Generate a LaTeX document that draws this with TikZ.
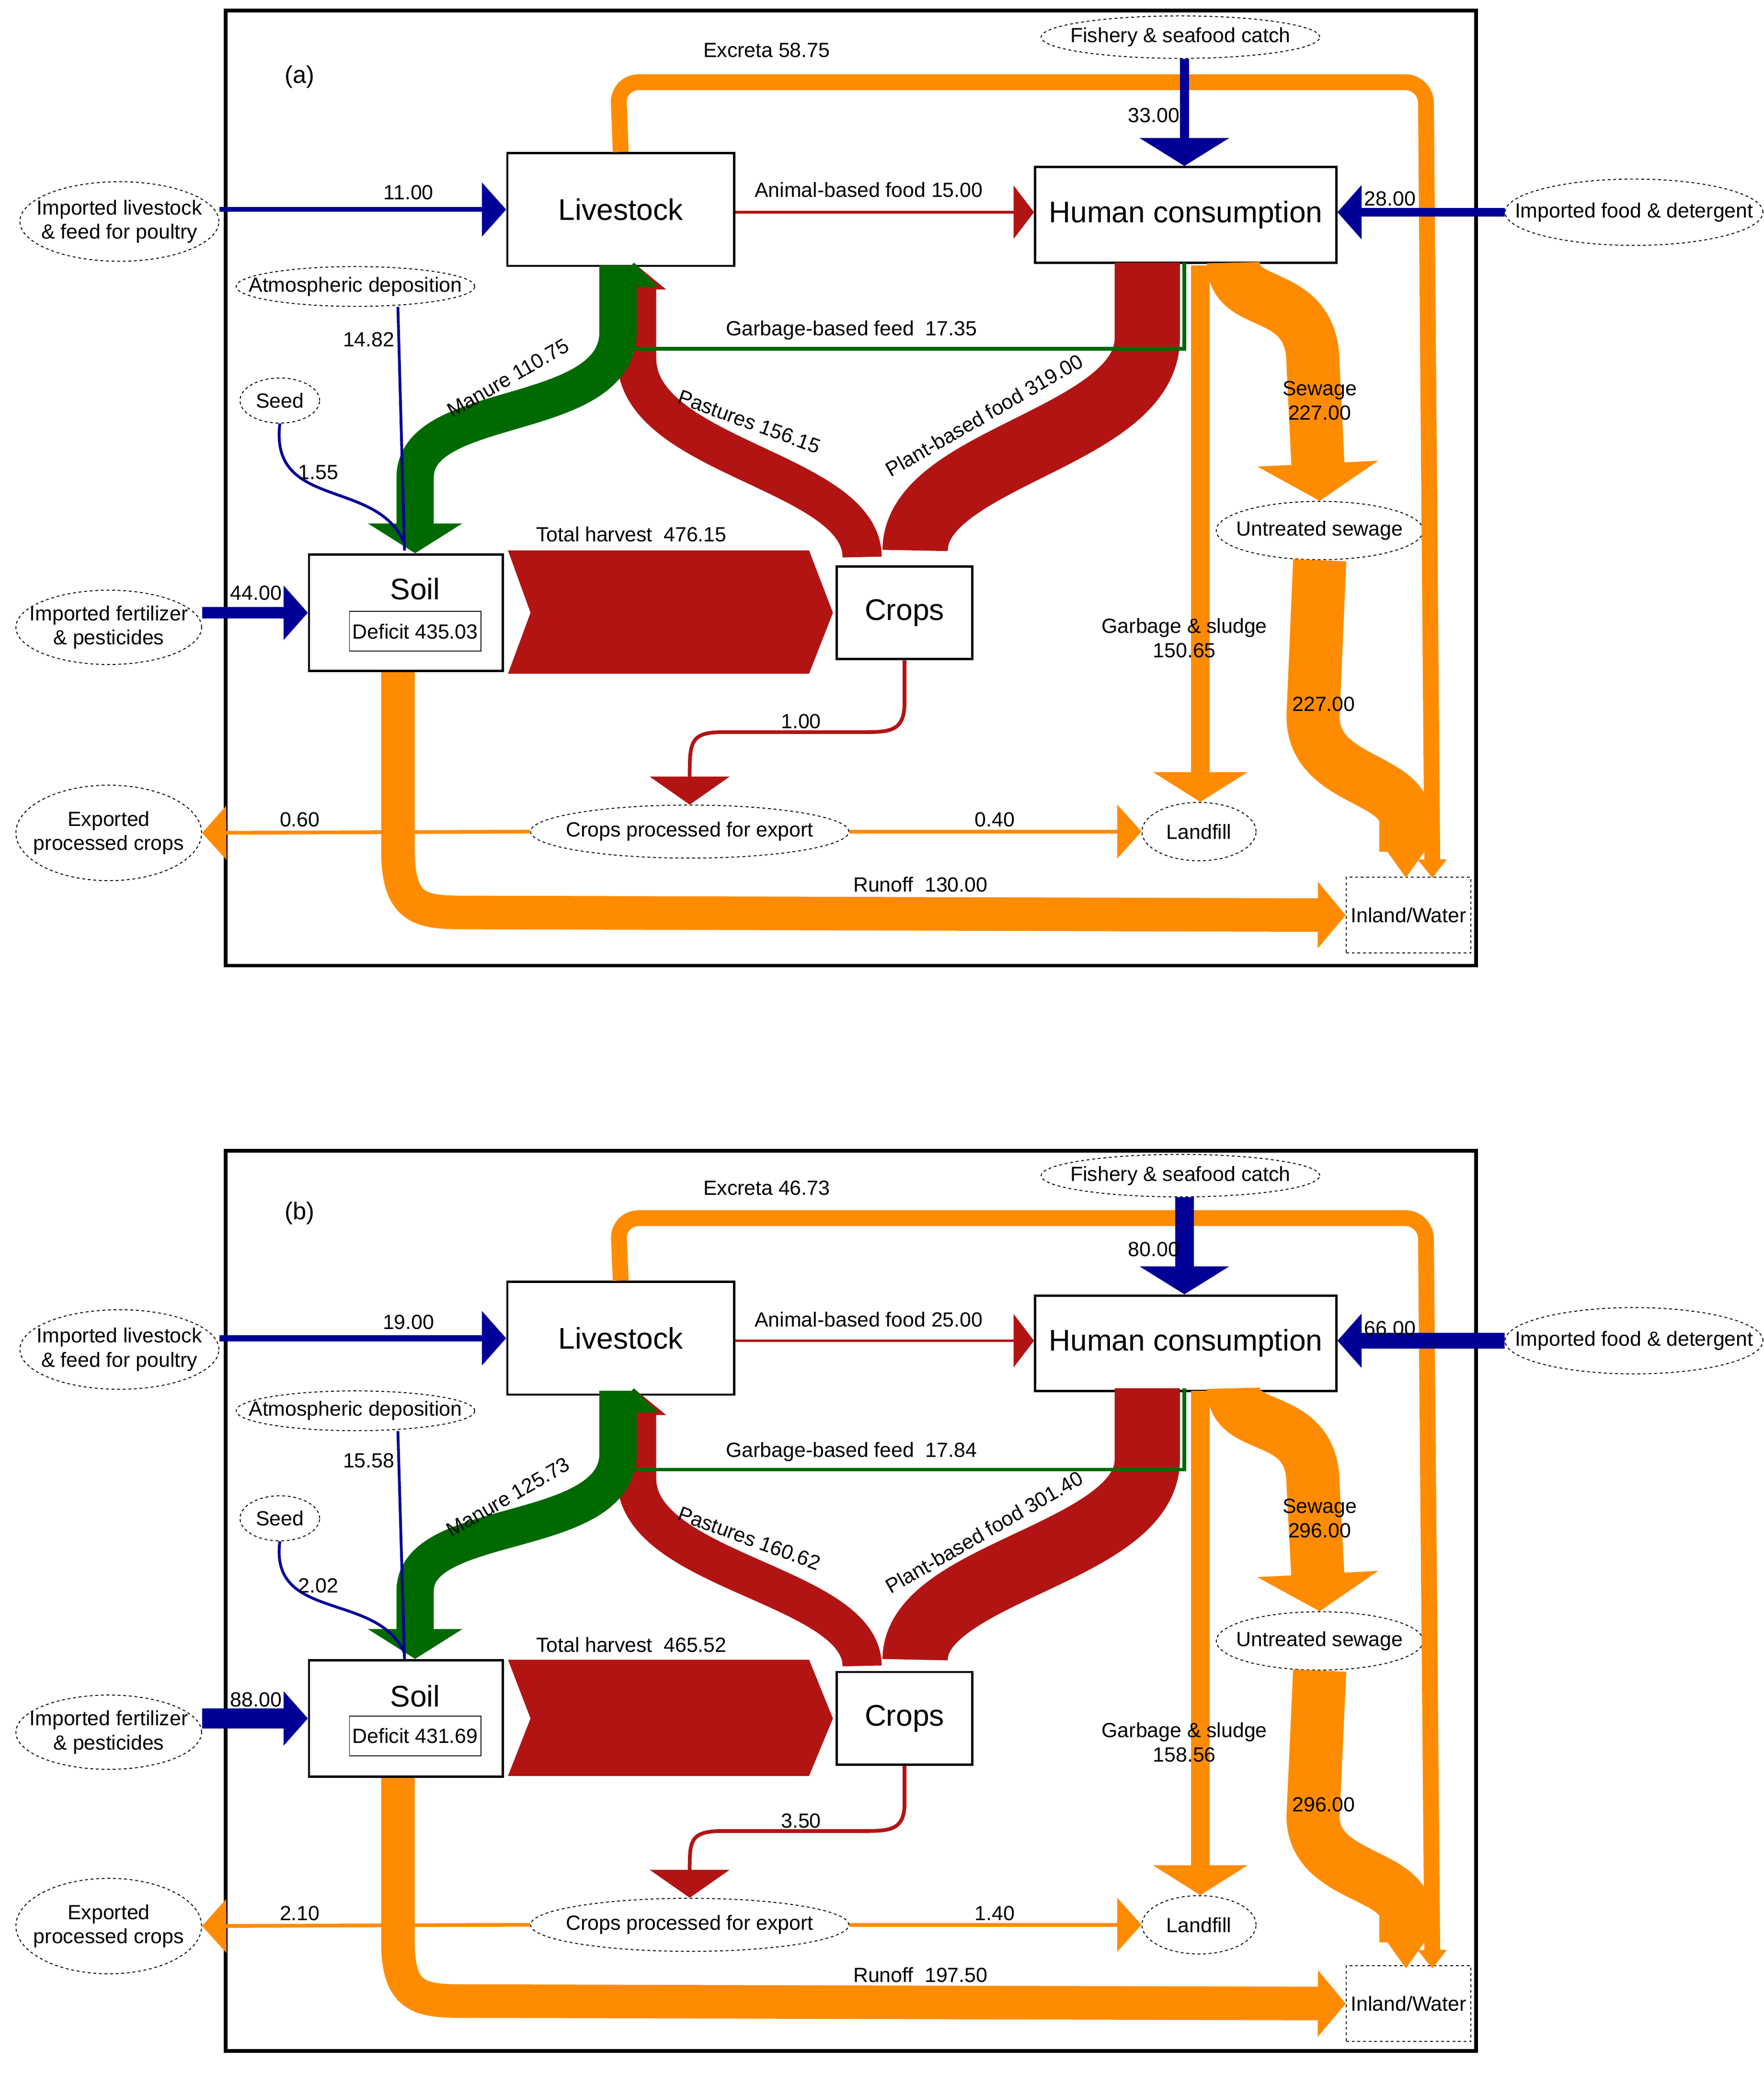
\documentclass[tikz,border=0pt]{standalone}
\usepackage{fontspec}
\setmainfont{Liberation Sans}
\usetikzlibrary{arrows.meta,shapes.geometric}
\definecolor{flowblue}{RGB}{0,0,150}
\definecolor{floworange}{RGB}{255,140,0}
\definecolor{flowred}{RGB}{178,20,20}
\definecolor{flowgreen}{RGB}{0,105,0}
\tikzset{
  lab/.style={font=\fontsize{22}{26}\selectfont, inner sep=1pt},
  box/.style={draw, line width=2.5pt, font=\fontsize{32}{36}\selectfont},
  src/.style={draw, dashed, ellipse, line width=1pt, inner xsep=-30pt, inner ysep=-3pt, align=center,
    font=\fontsize{22}{26}\selectfont},
  blueflow/.style={draw=flowblue, line width=#1},
  thinhead/.style={-{Triangle[width=57pt,length=26pt]}},
  bighead/.style={-{Triangle[width=100pt,length=32pt]}},
}
\begin{document}
\begin{tikzpicture}[x=0.05cm,y=-0.05cm]
\useasboundingbox[fill=white] (0,0) rectangle (1330,1563);

\foreach \p/\oy/\sy/\exc/\fish/\ilv/\anim/\ifood/\atm/\gfeed/\man/\past/\plant/\seed/\sew/\fert/\harv/\defi/\cexp/\expo/\lfil/\run/\gsl in {
  a/0/1/58.75/33.00/11.00/15.00/28.00/14.82/17.35/110.75/156.15/319.00/1.55/227.00/44.00/476.15/435.03/1.00/0.60/0.40/130.00/150.65,
  b/860/0.943/46.73/80.00/19.00/25.00/66.00/15.58/17.84/125.73/160.62/301.40/2.02/296.00/88.00/465.52/431.69/3.50/2.10/1.40/197.50/158.56}{
\begin{scope}[shift={(0,\oy)}, yscale=\sy]

% frame and boxes
\draw[line width=4pt] (170,8) rectangle (1113,728);
\node[lab, font=\fontsize{26}{30}\selectfont] (tag-\p) at (226,58) {(\p)};
\node[box, minimum width=8.55cm, minimum height=4.25cm] (live-\p) at (468,158) {Livestock};
\node[box, minimum width=11.35cm, minimum height=3.6cm] (hum-\p) at (894,162) {Human consumption};
\node[box, minimum width=7.3cm, minimum height=4.4cm] (soil-\p) at (306,462) {};
\node[font=\fontsize{32}{36}\selectfont] (soiltxt-\p) at (313,444) {Soil};
\node[draw, line width=1pt, minimum width=4.95cm, minimum height=1.5cm, lab] (def-\p) at (313,476) {Deficit \defi};
\node[box, minimum width=5.1cm, minimum height=3.5cm] (crops-\p) at (682,462) {Crops};
\node[draw, dashed, line width=1pt, minimum width=4.7cm, minimum height=2.85cm, lab] (water-\p) at (1062,690) {Inland/Water};

% sources and sinks
\node[src, minimum width=10.5cm, minimum height=1.6cm] (fish-\p) at (890,28) {Fishery \& seafood catch};
\node[src, minimum width=7.5cm, minimum height=3cm] (ilv-\p) at (90,167) {Imported livestock\\\& feed for poultry};
\node[src, minimum width=9.6cm, minimum height=2.5cm] (ifood-\p) at (1232,160) {Imported food \& detergent};
\node[src, minimum width=9cm, minimum height=1.5cm] (atm-\p) at (268,216) {Atmospheric deposition};
\node[src, minimum width=3cm, minimum height=1.7cm] (seed-\p) at (211,302) {Seed};
\node[src, minimum width=7.8cm, minimum height=2.2cm] (untr-\p) at (995,400) {Untreated sewage};
\node[src, minimum width=7cm, minimum height=2.8cm] (fert-\p) at (82,473) {Imported fertilizer\\\& pesticides};
\node[src, minimum width=7cm, minimum height=3.6cm] (expo-\p) at (82,628) {Exported\\processed crops};
\node[src, minimum width=12cm, minimum height=2cm] (cpe-\p) at (520,627) {Crops processed for export};
\node[src, minimum width=4.3cm, minimum height=2.2cm] (land-\p) at (904,627) {Landfill};

% orange flows
\draw[floworange, line width=17pt, rounded corners=22pt, -{Triangle[width=30pt,length=20pt]}]
  (live-\p.north) -- (466,62) -- (1075,62) -- (1080,662);
\draw[floworange, line width=36pt, -{Triangle[width=70pt,length=30pt]}]
  (soil-\p.south -| 300,0) -- (300,640) .. controls (300,690) and (320,688) .. (360,688) -- (water-\p.west);
\draw[floworange, line width=20pt, bighead] (905,200) -- (land-\p.north -| 905,0);
\draw[floworange, line width=57pt, -{Triangle[width=128pt,length=40pt]}]
  (930,198) .. controls (930,235) and (990,215) .. (990,275) -- (untr-\p.north);
\draw[floworange, line width=57pt, -{Triangle[width=40pt,length=30pt]}]
  (untr-\p.south) -- (990,540) .. controls (990,590) and (1060,585) .. (1060,620) -- (1060,662);
\draw[floworange, line width=4pt, thinhead] (cpe-\p.west) -- (expo-\p.east);
\draw[floworange, line width=4pt, thinhead] (cpe-\p.east) -- (land-\p.west);

% red flows
\fill[flowred] (383,415) -- (610,415) -- (628,462) -- (610,508) -- (383,508) -- (400,462) -- cycle;
\draw[flowred, line width=70pt] (690,415) .. controls (690,345) and (865,330) .. (865,255) -- (865,198);
\draw[flowred, line width=42pt, -{Triangle[width=62pt,length=26pt]}]
  (650,420) .. controls (650,355) and (480,345) .. (480,270) -- (480,200);
\draw[flowred, line width=3pt, -{Triangle[width=57pt,length=22pt]}] (live-\p.east |- 0,160) -- (hum-\p.west |- 0,160);
\draw[flowred, line width=4pt, -{Triangle[width=85pt,length=30pt]}]
  (crops-\p.south) -- (682,530) .. controls (682,552) and (670,552) .. (650,552)
  -- (545,552) .. controls (520,552) and (520,560) .. (cpe-\p.north);

% green flows
\draw[flowgreen, line width=40pt, bighead]
  (466,200) -- (466,250) .. controls (466,320) and (313,300) .. (313,360) -- (soil-\p.north -| 313,0);
\draw[flowgreen, line width=4pt, -{Triangle[width=51pt,length=26pt]}]
  (893,198) -- (893,263) -- (478,263) -- (478,198);

% blue flows
\draw[blueflow={(2+0.15*\ilv)*1.42pt}, thinhead] (ilv-\p.east |- 0,158) -- (live-\p.west |- 0,158);
\draw[blueflow={(2+0.15*\fish)*1.42pt}, -{Triangle[width=95pt,length=30pt]}] (fish-\p.south -| 893,0) -- (hum-\p.north -| 893,0);
\draw[blueflow={(2+0.15*\ifood)*1.42pt}, thinhead] (ifood-\p.west) -- (hum-\p.east |- 0,160);
\draw[blueflow={(2+0.15*\fert)*1.42pt}, thinhead] (fert-\p.east |- 0,462) -- (soil-\p.west);
\draw[blueflow=3pt] (atm-\p.south -| 300,0) -- (305,415);
\draw[blueflow=3pt] (seed-\p.south) .. controls (203,385) and (285,360) .. (305,410);

% flow labels
\node[lab] (l-exc-\p) at (578,38) {Excreta \exc};
\node[lab] (l-fish-\p) at (870,87) {\fish};
\node[lab] (l-ilv-\p) at (308,145) {\ilv};
\node[lab] (l-anim-\p) at (655,143) {Animal-based food \anim};
\node[lab] (l-ifood-\p) at (1048,150) {\ifood};
\node[lab] (l-gfeed-\p) at (642,249) {Garbage-based feed\ \ \gfeed};
\node[lab] (l-atm-\p) at (278,256) {\atm};
\node[lab, rotate=30] (l-man-\p) at (383,285) {Manure \man};
\node[lab, rotate=-20] (l-past-\p) at (565,318) {Pastures \past};
\node[lab, rotate=30] (l-plant-\p) at (742,313) {Plant-based food \plant};
\node[lab] (l-seed-\p) at (240,356) {\seed};
\node[lab, align=center] (l-sew-\p) at (995,302) {Sewage\\\sew};
\node[lab] (l-harv-\p) at (476,403) {Total harvest\ \ \harv};
\node[lab] (l-fert-\p) at (193,447) {\fert};
\node[lab, align=center] (l-gsl-\p) at (893,481) {Garbage \& sludge\\\gsl};
\node[lab] (l-unt-\p) at (998,531) {\sew};
\node[lab] (l-cexp-\p) at (604,544) {\cexp};
\node[lab] (l-expo-\p) at (226,618) {\expo};
\node[lab] (l-lfil-\p) at (750,618) {\lfil};
\node[lab] (l-run-\p) at (694,667) {Runoff\ \ \run};
\end{scope}
}
\end{tikzpicture}
\end{document}
